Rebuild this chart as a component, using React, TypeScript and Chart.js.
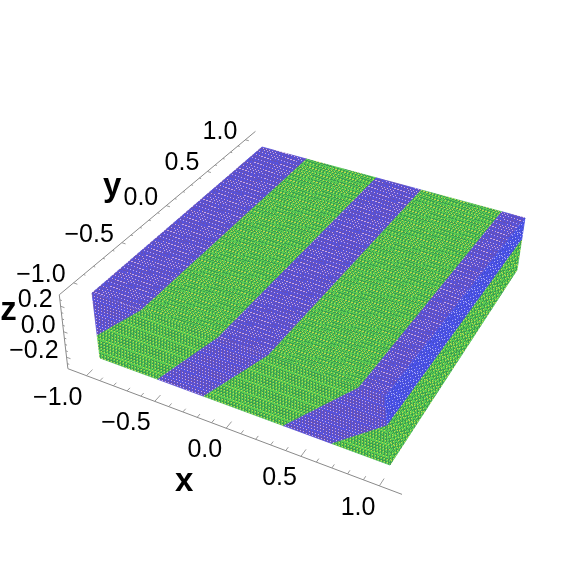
import React, { useEffect, useRef } from "react";
import { Chart, registerables } from "chart.js";

Chart.register(...registerables);

// ---- data (in plot units) ----
const topStripeX = [-1, -0.63, -0.08, 0.26, 0.84, 1];
const topStripeTone = ["blue", "green", "blue", "green", "blue"];

const frontFaceX = [
  [-1, -0.63, -1],
  [-0.63, -0.08, -0.57, -1, -1],
  [-0.08, 0.26, -0.24, -0.57],
  [0.26, 0.84, 0.31, -0.24],
  [0.84, 1, 1, 0.63, 0.31],
  [0.63, 1, 1],
];
const frontFaceZ = [
  [0.26, 0.26, -0.08],
  [0.26, 0.26, -0.26, -0.26, -0.08],
  [0.26, 0.26, -0.26, -0.26],
  [0.26, 0.26, -0.26, -0.26],
  [0.26, 0.26, 0.04, -0.26, -0.26],
  [-0.26, 0.04, -0.26],
];
const frontFaceTone = ["blue", "green", "blue", "green", "blue", "green"];

const rightFaceY = [
  [-1, 1, 1, -1],
  [-1, 1, 1, -1],
];
const rightFaceZ = [
  [0.26, 0.26, 0.04, 0.04],
  [0.04, 0.04, -0.26, -0.26],
];
const rightFaceTone = ["blueBright", "green"];

const xyTicks = [-1, -0.5, 0, 0.5, 1];
const xyMinorTicks = [-0.9, -0.8, -0.7, -0.6, -0.4, -0.3, -0.2, -0.1, 0.1, 0.2, 0.3, 0.4, 0.6, 0.7, 0.8, 0.9];
const zTicks = [-0.2, 0, 0.2];
const zMinorTicks = [-0.25, -0.15, -0.1, -0.05, 0.05, 0.1, 0.15, 0.25];
const xyTickLabels = ["−1.0", "−0.5", "0.0", "0.5", "1.0"];
const zTickLabels = ["−0.2", "0.0", "0.2"];

// ---- projection of plot units on to the page scale ----
const TOP = { a: [92, 293], d: [385, 397], c: [525, 218], b: [262, 147] };
const BOT = { a: [100, 358], d: [390, 465], c: [517, 270], b: [265, 195] };
const ZT = 0.26;
const BX = 1.14;
const BZ = 0.29;

function planeMap(q: any) {
  const [x0, y0] = q.a, [x1, y1] = q.d, [x2, y2] = q.c, [x3, y3] = q.b;
  const dx1 = x1 - x2, dy1 = y1 - y2, dx2 = x3 - x2, dy2 = y3 - y2;
  const sx = x0 - x1 + x2 - x3, sy = y0 - y1 + y2 - y3;
  const den = dx1 * dy2 - dx2 * dy1;
  const g = (sx * dy2 - dx2 * sy) / den, h = (dx1 * sy - sx * dy1) / den;
  return (x: number, y: number) => {
    const s = (x + 1) / 2, t = (y + 1) / 2;
    const w = g * s + h * t + 1;
    return [
      ((x1 - x0 + g * x1) * s + (x3 - x0 + h * x3) * t + x0) / w,
      ((y1 - y0 + g * y1) * s + (y3 - y0 + h * y3) * t + y0) / w,
    ];
  };
}
const topMap = planeMap(TOP);
const botMap = planeMap(BOT);
function proj(x: number, y: number, z: number) {
  const p = topMap(x, y), q = botMap(x, y);
  const k = (ZT - z) / (2 * ZT);
  return { x: p[0] + (q[0] - p[0]) * k, y: p[1] + (q[1] - p[1]) * k };
}

const GAP = { x: NaN, y: NaN };

function makeTile(tone: string) {
  const c = document.createElement("canvas");
  c.width = c.height = 9;
  const g = c.getContext("2d")!;
  const pal: any = {
    blue: ["#6650b4", "#5652de", "#c8a8e8"],
    blueBright: ["#444cd0", "#4c54ee", "#acaaf4"],
    green: ["#3c9c50", "#5ccc52", "#c4d848"],
  }[tone];
  g.fillStyle = pal[0];
  g.fillRect(0, 0, 9, 9);
  g.fillStyle = pal[1];
  g.fillRect(0, 0, 7, 7);
  g.fillStyle = pal[2];
  g.fillRect(3, 0, 3, 3);
  return c;
}

function texture(ctx: CanvasRenderingContext2D, tone: string, u: number[], v: number[]) {
  const p = ctx.createPattern(makeTile(tone), "repeat")!;
  p.setTransform(new DOMMatrix([u[0] / 9, u[1] / 9, v[0] / 9, v[1] / 9, 0, 0]));
  return p;
}

const LATTICE: any = {
  top: [[2.95, 0.95], [1.8, -1.55]],
  front: [[3.0, 1.1], [0.25, 3.2]],
  right: [[1.8, -2.3], [-0.3, 3.2]],
};

const facePlugin = {
  id: "faces",
  beforeDatasetsDraw(chart: any) {
    const ctx = chart.ctx;
    chart.data.datasets.forEach((ds: any, i: number) => {
      if (!ds.face) return;
      const pts = chart.getDatasetMeta(i).data;
      const [u, v] = LATTICE[ds.face];
      const pat = texture(ctx, ds.tone, u, v);
      ctx.save();
      ctx.imageSmoothingEnabled = false;
      ctx.beginPath();
      pts.forEach((p: any, k: number) => (k ? ctx.lineTo(p.x, p.y) : ctx.moveTo(p.x, p.y)));
      ctx.closePath();
      ctx.fillStyle = pat;
      ctx.strokeStyle = pat;
      ctx.lineWidth = 0.8;
      ctx.fill();
      ctx.stroke();
      ctx.restore();
    });
  },
};

const labelPlugin = {
  id: "axisText",
  afterDatasetsDraw(chart: any) {
    const ctx = chart.ctx;
    const sx = chart.scales.x, sy = chart.scales.y;
    const put = (txt: string, p: any, dx: number, dy: number, align: CanvasTextAlign) => {
      ctx.textAlign = align;
      ctx.fillText(txt, sx.getPixelForValue(p.x) + dx, sy.getPixelForValue(p.y) + dy);
    };
    ctx.save();
    ctx.fillStyle = "#000";
    ctx.textBaseline = "middle";
    ctx.font = "25px 'Liberation Sans'";
    xyTicks.forEach((t, i) => put(xyTickLabels[i], proj(t, -BX, -BZ), -4, 22, "right"));
    xyTicks.forEach((t, i) => put(xyTickLabels[i], proj(-BX, t, BZ), -8, -8, "right"));
    zTicks.forEach((t, i) => put(zTickLabels[i], proj(-BX, -BX, t), -8, -6, "right"));
    ctx.font = "bold 33px 'Liberation Sans'";
    put("x", proj(0, -BX, -BZ), -42, 54, "center");
    put("y", proj(-BX, 0, BZ), -54, -19, "center");
    put("z", proj(-BX, -BX, 0), -55, -21, "center");
    ctx.restore();
  },
};

function polyDataset(data: any[], face: string, tone: string) {
  return { data, face, tone, showLine: false, pointRadius: 0, pointHoverRadius: 0 };
}

function lineDataset(data: any[], color: string, width: number) {
  return { data, showLine: true, pointRadius: 0, borderColor: color, borderWidth: width, spanGaps: false, tension: 0 };
}

function tickSegs(values: number[], at: (t: number) => any, off: (t: number) => any) {
  const out: any[] = [];
  values.forEach((t) => out.push(at(t), off(t), GAP));
  return out;
}

export default function App() {
  const ref = useRef<HTMLCanvasElement>(null);
  useEffect(() => {
    const top = topStripeTone.map((tone, i) =>
      polyDataset(
        [
          proj(topStripeX[i], -1, ZT),
          proj(topStripeX[i + 1], -1, ZT),
          proj(topStripeX[i + 1], 1, ZT),
          proj(topStripeX[i], 1, ZT),
        ],
        "top",
        tone
      )
    );
    const front = frontFaceTone.map((tone, i) =>
      polyDataset(frontFaceX[i].map((x, k) => proj(x, -1, frontFaceZ[i][k])), "front", tone)
    );
    const right = rightFaceTone.map((tone, i) =>
      polyDataset(rightFaceY[i].map((y, k) => proj(1, y, rightFaceZ[i][k])), "right", tone)
    );
    const axisColor = "#8a8a8a";
    const axes = [
      lineDataset([proj(-BX, -BX, -BZ), proj(BX, -BX, -BZ)], axisColor, 1),
      lineDataset([proj(-BX, -BX, BZ), proj(-BX, BX, BZ)], axisColor, 1),
      lineDataset([proj(-BX, -BX, BZ), proj(-BX, -BX, -BZ)], axisColor, 1),
      lineDataset(
        [
          ...tickSegs(xyTicks, (t) => proj(t, -BX, -BZ), (t) => proj(t, -BX + 0.06, -BZ)),
          ...tickSegs(xyMinorTicks, (t) => proj(t, -BX, -BZ), (t) => proj(t, -BX + 0.03, -BZ)),
          ...tickSegs(xyTicks, (t) => proj(-BX, t, BZ), (t) => proj(-BX + 0.03, t, BZ)),
          ...tickSegs(xyMinorTicks, (t) => proj(-BX, t, BZ), (t) => proj(-BX + 0.015, t, BZ)),
          ...tickSegs(zTicks, (t) => proj(-BX, -BX, t), (t) => proj(-BX + 0.03, -BX, t)),
          ...tickSegs(zMinorTicks, (t) => proj(-BX, -BX, t), (t) => proj(-BX + 0.015, -BX, t)),
        ],
        "#9a9a9a",
        1
      ),
    ];
    const chart = new Chart(ref.current!, {
      type: "scatter",
      data: { datasets: [...axes, ...top, ...front, ...right] as any },
      options: {
        responsive: false,
        animation: false,
        layout: { padding: 0 },
        plugins: { legend: { display: false }, tooltip: { enabled: false } },
        scales: {
          x: { type: "linear", min: 0, max: 576, display: false },
          y: { type: "linear", min: 0, max: 576, reverse: true, display: false },
        },
      },
      plugins: [facePlugin, labelPlugin],
    } as any);
    return () => chart.destroy();
  }, []);
  return (
    <div style={{ position: "absolute", left: 0, top: 0, width: 576, height: 576, background: "#fff" }}>
      <canvas ref={ref} width={576} height={576} style={{ display: "block" }} />
    </div>
  );
}
